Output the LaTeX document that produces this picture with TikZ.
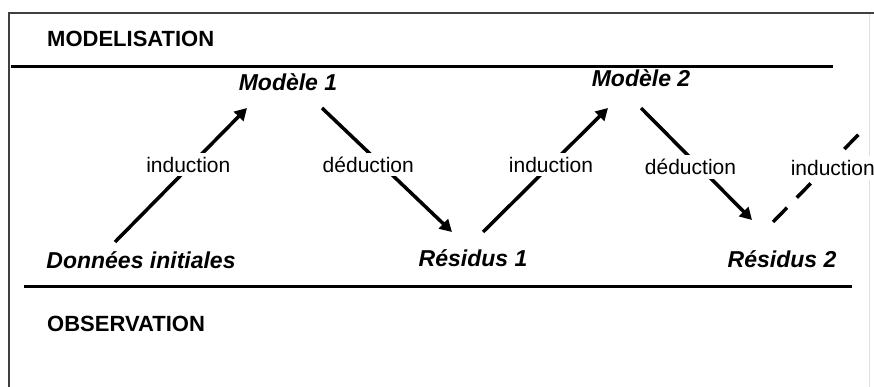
\documentclass[tikz,border=0pt]{standalone}
\usepackage{fontspec}
\setmainfont{Liberation Sans}
\usetikzlibrary{arrows.meta}

\begin{document}
\begin{tikzpicture}[x=1pt, y=-1pt,
        stage/.style={font=\fontsize{23}{26}\selectfont\bfseries\itshape, inner sep=0pt, anchor=base},
        title/.style={font=\fontsize{22}{24}\selectfont\bfseries, inner sep=0pt, anchor=base west},
        reasoning/.style={font=\fontsize{21}{24}\selectfont, fill=white, inner sep=4pt},
        arrow/.style={line width=3.5pt, -{Triangle[length=12pt,width=13pt]}},
        band/.style={line width=3pt}]
        \useasboundingbox (0,0) rectangle (874,387);
        \clip (0,0) rectangle (874,387);
        % window frame
        \draw[line width=2pt, black!75] (9,390) -- (9,13) -- (876,13);
        \draw[black!12] (869,14) -- (869,387);
        % the two levels
        \node[title] (modtitle) at (47,47) {MODELISATION};
        \draw[band] (11,67) -- (833,67);
        \draw[band] (24,286) -- (852,286);
        \node[title] (obstitle) at (47,331) {OBSERVATION};
        % models and data
        \node[stage] (d0) at (141,268) {Données initiales};
        \node[stage] (m1) at (288,91) {Modèle 1};
        \node[stage] (r1) at (473,266) {Résidus 1};
        \node[stage] (m2) at (641,87) {Modèle 2};
        \node[stage] (r2) at (782,267) {Résidus 2};
        \coordinate (next) at (860,133);
        % induction up, deduction down
        \draw[arrow] ([xshift=-26pt,yshift=26pt]d0.base) -- ([xshift=-41pt,yshift=-17pt]m1.base)
            node[reasoning, pos=0.578, xshift=-3pt] {induction};
        \draw[arrow] ([xshift=34pt,yshift=-17pt]m1.base) -- ([xshift=-21pt,yshift=34pt]r1.base)
            node[reasoning, pos=0.456, xshift=-13pt] {déduction};
        \draw[arrow] ([xshift=10pt,yshift=34pt]r1.base) -- ([xshift=-33pt,yshift=-21pt]m2.base)
            node[reasoning, pos=0.544] {induction};
        \draw[arrow] ([yshift=-21pt]m2.base) -- ([xshift=-30pt,yshift=47pt]r2.base)
            node[reasoning, pos=0.527, xshift=-9pt] {déduction};
        % next step, not drawn yet
        \draw[line width=3.5pt, dash pattern=on 20pt off 14pt] ([xshift=-9pt,yshift=45pt]r2.base) -- (next)
            node[reasoning, pos=0.607, xshift=7pt] {induction};
    \end{tikzpicture}
\end{document}
